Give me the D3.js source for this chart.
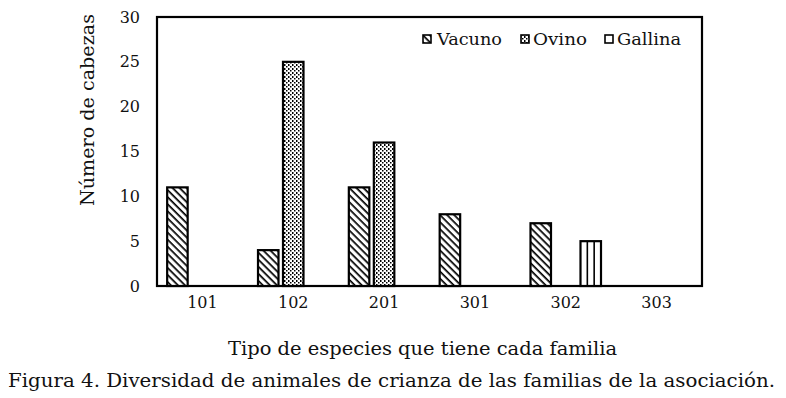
<!DOCTYPE html>
<html><head><meta charset="utf-8">
<script src="https://cdn.jsdelivr.net/npm/d3@7"></script>
<style>body{margin:0;background:#fff}svg{display:block}</style>
</head><body><svg id="c" width="786" height="398"></svg>
<script>
const categories = ["101","102","201","301","302","303"];
const series = ["Vacuno","Ovino","Gallina"];
const vacuno = [11,4,11,8,7,0];
const ovino = [0,25,16,0,0,0];
const gallina = [0,0,0,0,5,0];
const yTicks = [0,5,10,15,20,25,30];
const values = {Vacuno: vacuno, Ovino: ovino, Gallina: gallina};

const svg = d3.select("#c");
const font = "'DejaVu Serif', 'Liberation Serif', serif";
const L = 157, R = 702, T = 17, B = 286;
const x = d3.scaleBand().domain(categories).range([L, R]);
const xs = d3.scalePoint().domain(series).range([-25, 25]);
const y = d3.scaleLinear().domain([0, 30]).range([B, T]);
const bw = 20.5;

const defs = svg.append("defs");
// Vacuno: diagonal hatch "\"
const p1 = defs.append("pattern").attr("id","pV").attr("patternUnits","userSpaceOnUse")
  .attr("width",5).attr("height",5).attr("patternTransform","rotate(45)");
p1.append("rect").attr("width",5).attr("height",5).attr("fill","#fff");
p1.append("rect").attr("x",0).attr("y",0).attr("width",5).attr("height",1.7).attr("fill","#000");
// Ovino: dotted columns
const p2 = defs.append("pattern").attr("id","pO").attr("patternUnits","userSpaceOnUse")
  .attr("width",4).attr("height",4);
p2.append("rect").attr("width",4).attr("height",4).attr("fill","#fff");
p2.append("rect").attr("x",0).attr("y",0).attr("width",1.5).attr("height",2).attr("fill","#000");
p2.append("rect").attr("x",2).attr("y",2).attr("width",1.5).attr("height",1.5).attr("fill","#000");
const fills = {Vacuno:"url(#pV)", Ovino:"url(#pO)", Gallina:"#fff"};

// frame
svg.append("rect").attr("x",L).attr("y",T).attr("width",R-L).attr("height",B-T)
  .attr("fill","none").attr("stroke","#000").attr("stroke-width",2.2);

// bars
const data = [];
categories.forEach((c,i)=>series.forEach(s=>{ if(values[s][i]>0) data.push({c,s,v:values[s][i]}); }));
const g = svg.append("g");
g.selectAll("rect.bar").data(data).join("rect").attr("class","bar")
  .attr("x", d => x(d.c) + x.bandwidth()/2 + xs(d.s) - bw/2)
  .attr("y", d => y(d.v))
  .attr("width", bw)
  .attr("height", d => y(0) - y(d.v))
  .attr("fill", d => fills[d.s])
  .attr("stroke","#000").attr("stroke-width",2.2);
// Gallina inner vertical lines
g.selectAll("g.gal").data(data.filter(d=>d.s==="Gallina")).join("g").each(function(d){
  const x0 = x(d.c) + x.bandwidth()/2 + xs(d.s) - bw/2;
  [bw/3, 2*bw/3].forEach(o=>{
    d3.select(this).append("line").attr("x1",x0+o).attr("x2",x0+o)
      .attr("y1",y(d.v)).attr("y2",y(0)).attr("stroke","#000").attr("stroke-width",1.6);
  });
});
// redraw baseline
svg.append("line").attr("x1",L).attr("x2",R).attr("y1",B).attr("y2",B).attr("stroke","#000").attr("stroke-width",2.2);

// y axis labels
const yAxis = d3.axisLeft(y).tickValues(yTicks).tickSize(0).tickPadding(0);
const ya = svg.append("g").attr("transform",`translate(140,0)`).call(yAxis);
ya.select(".domain").remove();
ya.selectAll("text").attr("font-family",font).attr("font-size",16).attr("fill","#111");

// x axis labels
const xAxis = d3.axisBottom(x).tickSize(0).tickPadding(0);
const xa = svg.append("g").attr("transform",`translate(0,297)`).call(xAxis);
xa.select(".domain").remove();
xa.selectAll("text").attr("font-family",font).attr("font-size",16).attr("fill","#111");

// legend
const leg = [{s:"Vacuno",x:423,tx:437,w:65},{s:"Ovino",x:521,tx:533,w:54},{s:"Gallina",x:605,tx:617,w:64}];
leg.forEach(l=>{
  svg.append("rect").attr("x",l.x).attr("y",35).attr("width",8).attr("height",8)
    .attr("fill",fills[l.s]).attr("stroke","#000").attr("stroke-width",1.6);
  svg.append("text").attr("x",l.tx).attr("y",45).text(l.s)
    .attr("font-family",font).attr("font-size",16).attr("fill","#111")
    .attr("textLength",l.w).attr("lengthAdjust","spacingAndGlyphs");
});

// axis titles
svg.append("text").attr("transform","translate(94,110) rotate(-90)").attr("text-anchor","middle")
  .text("Número de cabezas").attr("font-family",font).attr("font-size",18).attr("fill","#111")
  .attr("textLength",192).attr("lengthAdjust","spacingAndGlyphs");
svg.append("text").attr("x",228).attr("y",355)
  .text("Tipo de especies que tiene cada familia").attr("font-family",font).attr("font-size",18).attr("fill","#111")
  .attr("textLength",389).attr("lengthAdjust","spacingAndGlyphs");
svg.append("text").attr("x",8).attr("y",387)
  .text("Figura 4. Diversidad de animales de crianza de las familias de la asociación.").attr("font-family",font).attr("font-size",18).attr("fill","#111")
  .attr("textLength",767).attr("lengthAdjust","spacingAndGlyphs");
</script></body></html>
